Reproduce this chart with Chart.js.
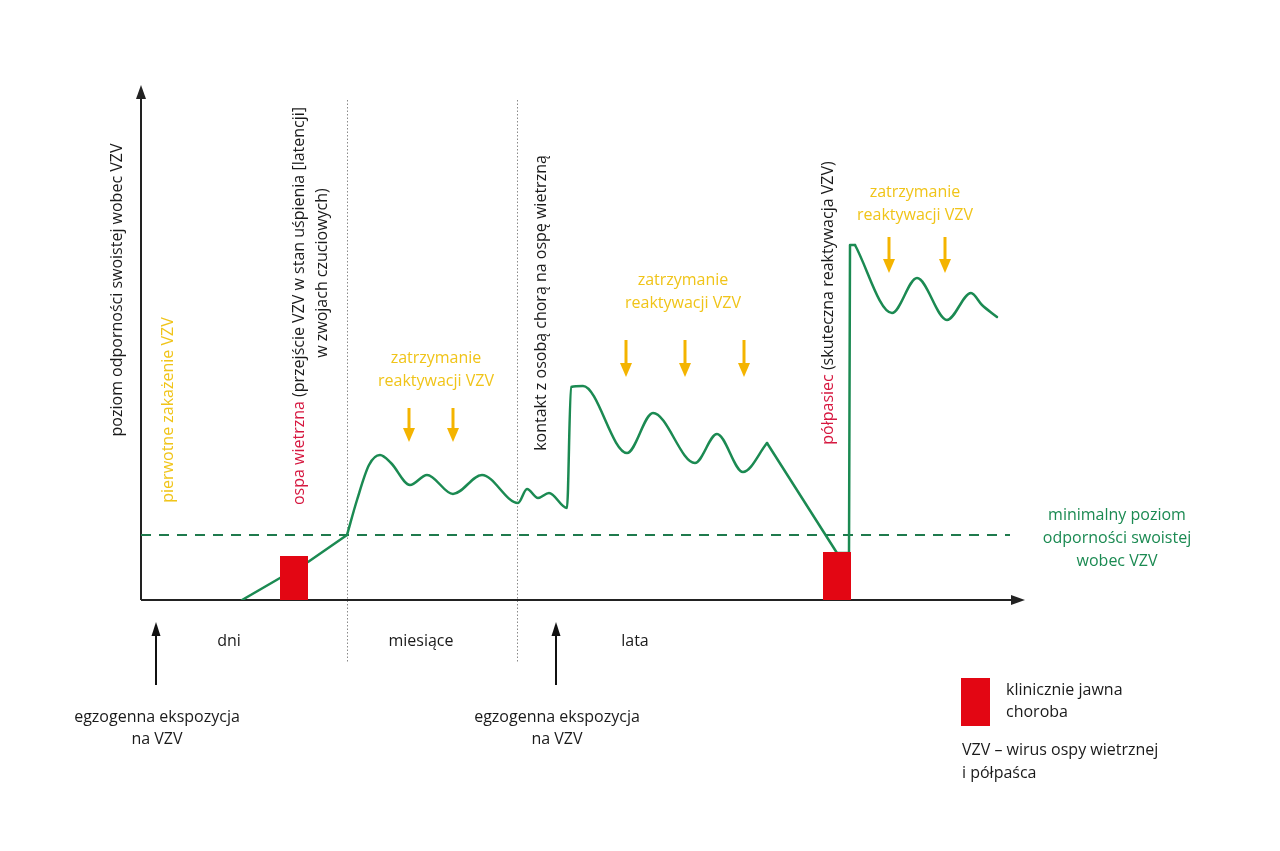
<!DOCTYPE html>
<html>
<head>
<meta charset="utf-8">
<script src="https://cdn.jsdelivr.net/npm/chart.js@4"></script>
<style>
  html, body { margin: 0; padding: 0; background: #fff; }
  #wrap { width: 1280px; height: 851px; position: relative; }
</style>
</head>
<body>
<div id="wrap"><canvas id="chart"></canvas></div>
<script>
// immunity curve (schematic units: x = time, y = level)
const curveX = [101, 139, 167, 206, 216, 228, 239, 250, 269, 286, 312, 341, 377, 386, 397, 408, 426, 430, 442, 486, 512, 554, 576, 602, 626, 696, 708, 709, 714, 751, 776, 806, 830, 841, 856];
const curveY = [0, 22, 38, 65, 100, 135, 145, 137, 115, 125, 106, 125, 97, 111, 102, 107, 92, 213, 214, 147, 187, 137, 166, 128, 157, 47, 47, 355, 355, 287, 322, 280, 307, 295, 283];
// which index ranges of the curve are straight and which are smooth
const curveRuns = [[0, 3, 'straight'], [3, 24, 'smooth'], [24, 28, 'straight'], [28, 34, 'smooth']];

const thresholdLevel = 65;
const thresholdEnd = 869;

// clinically evident disease periods
const diseaseFrom = [139, 682];
const diseaseTo = [167, 710];
const diseaseTop = [44, 48];

// phase boundaries and names
const phaseBounds = [206, 376];
const phaseNames = ['dni', 'miesiące', 'lata'];
const phaseNameX = [88, 280, 494];

// "zatrzymanie reaktywacji" arrows
const stopArrowX = [268, 312, 485, 544, 603, 748, 804];
const stopArrowTop = [192, 192, 260, 260, 260, 363, 363];
const stopArrowTip = [158, 158, 223, 223, 223, 327, 327];
const stopLabelX = [295, 542, 774];
const stopLabelY = [242, 320, 408];

// exogenous exposure
const exposureX = [15, 415];

const GREEN = '#1b8a52';
const YELLOW = '#f4b400';
const YELLOW_TXT = '#f0c419';
const RED = '#e30613';
const RED_TXT = '#d6173f';
const FONT = '"Open Sans", sans-serif';

function arrow(ctx, x1, y1, x2, y2, color, w, hl, hw) {
  const a = Math.atan2(y2 - y1, x2 - x1);
  ctx.save();
  ctx.strokeStyle = color; ctx.fillStyle = color; ctx.lineWidth = w;
  ctx.beginPath();
  ctx.moveTo(x1, y1);
  ctx.lineTo(x2 - Math.cos(a) * hl * 0.8, y2 - Math.sin(a) * hl * 0.8);
  ctx.stroke();
  ctx.translate(x2, y2); ctx.rotate(a);
  ctx.beginPath();
  ctx.moveTo(0, 0); ctx.lineTo(-hl, -hw / 2); ctx.lineTo(-hl, hw / 2); ctx.closePath();
  ctx.fill();
  ctx.restore();
}

function text(ctx, s, x, y, color, align) {
  ctx.fillStyle = color;
  ctx.textAlign = align || 'center';
  ctx.fillText(s, x, y);
}

// rotated (bottom-to-top) text built from coloured pieces, centred on x,y
function rotText(ctx, parts, x, y) {
  ctx.save();
  ctx.translate(x, y);
  ctx.rotate(-Math.PI / 2);
  ctx.textAlign = 'left';
  let total = 0;
  parts.forEach(p => total += ctx.measureText(p[0]).width);
  let pos = -total / 2;
  parts.forEach(p => {
    ctx.fillStyle = p[1];
    ctx.fillText(p[0], pos, 0);
    pos += ctx.measureText(p[0]).width;
  });
  ctx.restore();
}

const backdrop = {
  id: 'backdrop',
  beforeDatasetsDraw(chart) {
    const ctx = chart.ctx, xs = chart.scales.x, ys = chart.scales.y;
    const X = v => xs.getPixelForValue(v), Y = v => ys.getPixelForValue(v);
    // phase separators
    ctx.save();
    ctx.strokeStyle = '#8a8a8a';
    ctx.lineWidth = 1;
    ctx.setLineDash([1.5, 2]);
    phaseBounds.forEach(b => {
      ctx.beginPath();
      ctx.moveTo(Math.round(X(b)) + 0.5, Y(500));
      ctx.lineTo(Math.round(X(b)) + 0.5, Y(-62));
      ctx.stroke();
    });
    ctx.restore();
    // axes
    arrow(ctx, X(0), Y(0), X(0), Y(515), '#222', 2, 14, 10);
    arrow(ctx, X(0), Y(0), X(884), Y(0), '#222', 2, 14, 10);
  },
  afterDatasetsDraw(chart) {
    const ctx = chart.ctx, xs = chart.scales.x, ys = chart.scales.y;
    const X = v => xs.getPixelForValue(v), Y = v => ys.getPixelForValue(v);
    ctx.save();
    ctx.font = '16px ' + FONT;
    ctx.textBaseline = 'middle';

    // yellow stop arrows and labels
    stopArrowX.forEach((v, i) => arrow(ctx, X(v), Y(stopArrowTop[i]), X(v), Y(stopArrowTip[i]), YELLOW, 3, 14, 12));
    stopLabelX.forEach((v, i) => {
      text(ctx, 'zatrzymanie', X(v), Y(stopLabelY[i]), YELLOW_TXT);
      text(ctx, 'reaktywacji VZV', X(v), Y(stopLabelY[i] - 23), YELLOW_TXT);
    });

    // threshold label
    text(ctx, 'minimalny poziom', X(976), Y(85), GREEN);
    text(ctx, 'odporności swoistej', X(976), Y(62), GREEN);
    text(ctx, 'wobec VZV', X(976), Y(39), GREEN);

    // phase names
    phaseNames.forEach((n, i) => text(ctx, n, X(phaseNameX[i]), Y(-41), '#1a1a1a'));

    // exposure arrows
    exposureX.forEach(v => {
      arrow(ctx, X(v), Y(-85), X(v), Y(-22), '#111', 2, 14, 9);
      text(ctx, 'egzogenna ekspozycja', X(v) + 1, Y(-117), '#1a1a1a');
      text(ctx, 'na VZV', X(v) + 1, Y(-139), '#1a1a1a');
    });

    // rotated labels
    rotText(ctx, [['poziom odporności swoistej wobec VZV', '#1a1a1a']], X(-24), Y(310));
    rotText(ctx, [['pierwotne zakażenie VZV', YELLOW_TXT]], X(27), Y(190));
    rotText(ctx, [['ospa wietrzna', RED_TXT], [' (przejście VZV w stan uśpienia [latencji]', '#1a1a1a']], X(158), Y(294));
    rotText(ctx, [['w zwojach czuciowych)', '#1a1a1a']], X(181), Y(327));
    rotText(ctx, [['kontakt z osobą chorą na ospę wietrzną', '#1a1a1a']], X(400), Y(297));
    rotText(ctx, [['półpasiec', RED_TXT], [' (skuteczna reaktywacja VZV)', '#1a1a1a']], X(687), Y(297));

    // legend
    ctx.fillStyle = RED;
    ctx.fillRect(X(820), Y(-78), X(849) - X(820), Y(-126) - Y(-78));
    text(ctx, 'klinicznie jawna', X(865), Y(-90), '#1a1a1a', 'left');
    text(ctx, 'choroba', X(865), Y(-112), '#1a1a1a', 'left');
    text(ctx, 'VZV – wirus ospy wietrznej', X(821), Y(-150), '#1a1a1a', 'left');
    text(ctx, 'i półpaśca', X(821), Y(-173), '#1a1a1a', 'left');
    ctx.restore();
  }
};

const pts = curveX.map((x, i) => ({ x: x, y: curveY[i] }));
const box = i => [{ x: diseaseFrom[i], y: diseaseTop[i] }, { x: diseaseTo[i], y: diseaseTop[i] }];

const curveSets = curveRuns.map(r => ({
  label: 'odporność', data: pts.slice(r[0], r[1] + 1), borderColor: GREEN, borderWidth: 2.5,
  pointRadius: 0, fill: false, order: 2, borderCapStyle: 'round', borderJoinStyle: 'round',
  tension: 0, cubicInterpolationMode: r[2] === 'smooth' ? 'monotone' : 'default'
}));

new Chart(document.getElementById('chart'), {
  type: 'line',
  data: {
    datasets: [
      {
        label: 'choroba 1', data: box(0), fill: 'origin', backgroundColor: RED,
        borderWidth: 0, pointRadius: 0, order: 1
      },
      {
        label: 'choroba 2', data: box(1), fill: 'origin', backgroundColor: RED,
        borderWidth: 0, pointRadius: 0, order: 1
      },
      {
        label: 'minimalny poziom', data: [{ x: 0, y: thresholdLevel }, { x: thresholdEnd, y: thresholdLevel }],
        borderColor: '#1f7a4d', borderWidth: 2, borderDash: [10, 8], pointRadius: 0, fill: false, order: 3
      }
    ].concat(curveSets)
  },
  options: {
    responsive: true,
    maintainAspectRatio: false,
    animation: false,
    layout: { padding: { left: 141, right: 255, top: 85, bottom: 251 } },
    scales: {
      x: { type: 'linear', min: 0, max: 884, display: false },
      y: { type: 'linear', min: 0, max: 515, display: false }
    },
    plugins: { legend: { display: false }, tooltip: { enabled: false } }
  },
  plugins: [backdrop]
});
</script>
</body>
</html>
